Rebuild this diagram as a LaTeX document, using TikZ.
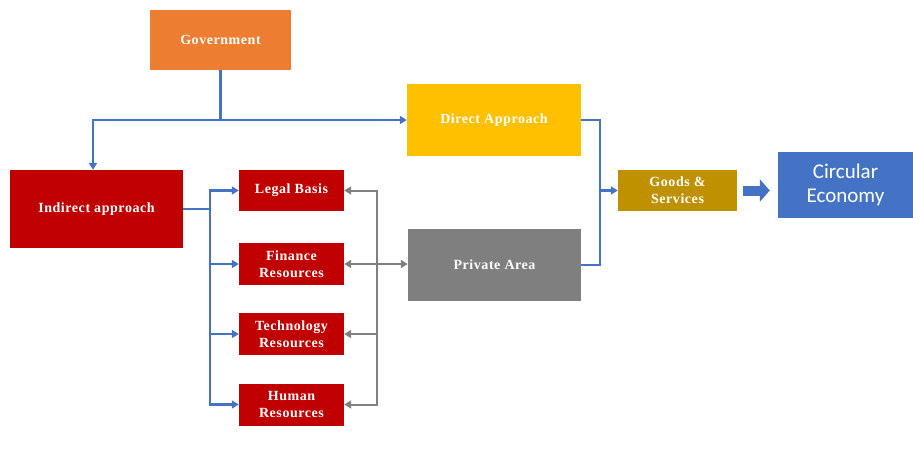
\documentclass[tikz,border=0pt]{standalone}
\usepackage{fontspec}
\setmainfont{Liberation Serif}[LetterSpace=4]
\newfontfamily\carlito{Carlito}
\usetikzlibrary{arrows.meta}
\definecolor{cOrange}{HTML}{ED7D31}
\definecolor{cYellow}{HTML}{FFC000}
\definecolor{cRed}{HTML}{C00000}
\definecolor{cGray}{HTML}{7F7F7F}
\definecolor{cGold}{HTML}{BF9000}
\definecolor{cBlue}{HTML}{4472C4}
\definecolor{cLine}{HTML}{4472C4}
\definecolor{cGLine}{HTML}{808080}
\tikzset{
  box/.style={rectangle, draw=none, text=white, font=\fontsize{14}{17}\selectfont\bfseries, align=center, inner sep=0pt},
  bl/.style={draw=cLine, line width=2.4pt},
  gl/.style={draw=cGLine, line width=2pt},
  tip/.style={-{Triangle[length=7pt,width=8pt]}},
  tipg/.style={{Triangle[length=7pt,width=8pt]}-{Triangle[length=7pt,width=8pt]}},
  tipl/.style={{Triangle[length=7pt,width=8pt]}-},
}
\begin{document}
\begin{tikzpicture}[x=1pt,y=-1pt]
\useasboundingbox[fill=white] (0,0) rectangle (913,456);
\node[box, fill=cOrange, minimum width=141pt, minimum height=60pt] (gov) at (220.5,40) {Government};
\node[box, fill=cYellow, minimum width=174pt, minimum height=72pt] (direct) at (494,120) {Direct Approach};
\node[box, fill=cRed, minimum width=173pt, minimum height=78pt] (indirect) at (96.5,209) {Indirect approach};
\node[box, fill=cRed, minimum width=105pt, minimum height=41pt] (legal) at (291.5,190.5) {Legal Basis};
\node[box, fill=cRed, minimum width=105pt, minimum height=42pt] (finance) at (291.5,264) {Finance\\Resources};
\node[box, fill=cRed, minimum width=105pt, minimum height=42pt] (tech) at (291.5,334) {Technology\\Resources};
\node[box, fill=cRed, minimum width=105pt, minimum height=42pt] (human) at (291.5,404.5) {Human\\Resources};
\node[box, fill=cGray, minimum width=173pt, minimum height=72pt] (private) at (494.5,265) {Private Area};
\node[box, fill=cGold, minimum width=119pt, minimum height=41pt] (goods) at (677.5,190.5) {Goods \&\\Services};
\node[box, fill=cBlue, minimum width=135pt, minimum height=66pt, font=\carlito\fontsize{21}{24}\selectfont] (circ) at (845.5,185) {Circular\\Economy};

\coordinate (j0) at (93,120);
\coordinate (kx) at (210,0);
\coordinate (gx) at (377,0);
\coordinate (mx) at (600,0);

% government connectors
\draw[bl, tip] (gov.south) |- (direct.west);
\draw[bl, tip] (gov.south) |- (j0) -- (j0 |- indirect.north);

% indirect to resources
\draw[bl, tip] (indirect.east) -| (kx |- legal.west) -- (legal.west);
\draw[bl, tip] (indirect.east) -| (kx |- human.west) -- (human.west);
\draw[bl, tip] (kx |- finance.west) -- (finance.west);
\draw[bl, tip] (kx |- tech.west) -- (tech.west);

% gray connectors
\draw[gl, tipg] (legal.east) -- (gx |- legal.east) -- (gx |- human.east) -- (human.east);
\draw[gl, tipl] (tech.east) -- (gx |- tech.east);
\draw[gl, tipg] (finance.east) -- (private.west |- finance.east);

% to goods
\draw[bl] (direct.east) -| (mx |- goods.west);
\draw[bl] (private.east) -| (mx |- goods.west);
\draw[bl, tip] (mx |- goods.west) -- (goods.west);

% block arrow
\draw[draw=cBlue, line width=10pt, -{Triangle[length=10pt,width=22pt]}] ([xshift=6pt]goods.east) -- ([xshift=-8pt]circ.west |- goods.east);
\end{tikzpicture}
\end{document}
